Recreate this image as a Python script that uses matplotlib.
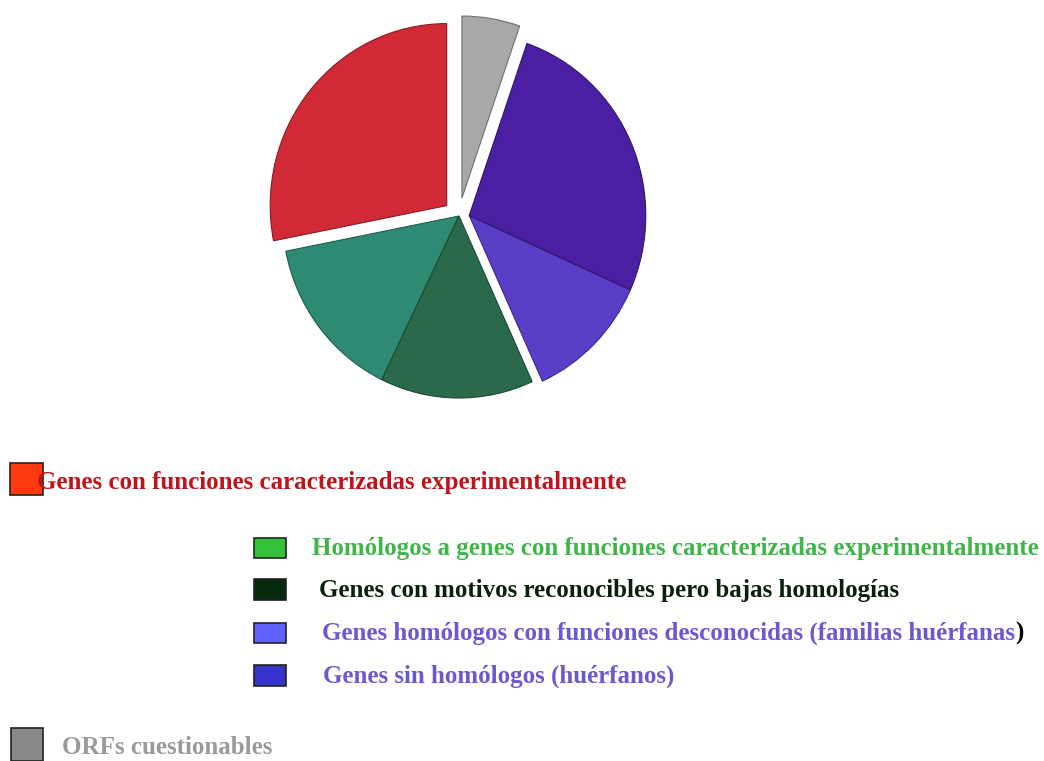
import matplotlib
matplotlib.use("Agg")
import matplotlib.pyplot as plt
from matplotlib.patches import Rectangle
import numpy as np

# ---- data ----
categories = [
    "Genes con funciones caracterizadas experimentalmente",
    "Homólogos a genes con funciones caracterizadas experimentalmente",
    "Genes con motivos reconocibles pero bajas homologías",
    "Genes homólogos con funciones desconocidas (familias huérfanas)",
    "Genes sin homólogos (huérfanos)",
    "ORFs cuestionables",
]
values = [28.1, 14.7, 14.0, 11.5, 26.4, 5.3]
slice_colors = ["#d12a36", "#2e8a72", "#2a6a4b", "#5a3ec6", "#4a1fa2", "#a8a8a8"]
slice_edges = ["#8a1a22", "#1d5d4c", "#1b4a33", "#3b2890", "#301470", "#707070"]
legend_box_colors = ["#ff3a10", "#33c23a", "#062a0c", "#6262ff", "#3434cc", "#888888"]
legend_text_colors = ["#c0141c", "#3fb54a", "#0a1f0c", "#6a5ad0", "#6a5ad0", "#9a9a9a"]
explode = [0.09, 0.0, 0.0, 0.0, 0.0, 0.10]
group_idx = [3, 4]        # slices displaced together as one block
group_offset = 0.058

W, H = 1044, 761
fig = plt.figure(figsize=(W / 100, H / 100), dpi=100)
fig.patch.set_facecolor("white")

# pie axes (slightly narrower horizontally, as in the original)
R_px = 182
xscale = 0.97
cx, cy = 459, 216
half = 1.25 * R_px
halfx = half * xscale
ax = fig.add_axes([(cx - halfx) / W, (H - cy - half) / H, 2 * halfx / W, 2 * half / H])
wedges, _ = ax.pie(values, colors=slice_colors, startangle=90, counterclock=True,
                   explode=explode, radius=1.0,
                   wedgeprops=dict(linewidth=0.8))
for w, ec in zip(wedges, slice_edges):
    w.set_edgecolor(ec)
# shift the two "orphan" slices together
th1 = wedges[group_idx[0]].theta1
th2 = wedges[group_idx[-1]].theta2
mid = np.deg2rad((th1 + th2) / 2)
for i in group_idx:
    wedges[i].set_center((group_offset * np.cos(mid), group_offset * np.sin(mid)))
ax.set_xlim(-1.25, 1.25)
ax.set_ylim(-1.25, 1.25)
ax.set_aspect("auto")
ax.axis("off")

# legend (manual layout)
boxes = [(10, 463, 33, 32), (254, 538, 32, 20), (254, 579, 32, 21),
         (254, 623, 32, 20), (254, 665, 32, 21), (11, 728, 32, 33)]
text_pos = [(37, 489), (312, 555), (319, 597), (322, 640), (323, 683), (62, 754)]

font = dict(family="Liberation Serif", fontsize=18, fontweight="bold")
for i, cat in enumerate(categories):
    x, y, w, h = boxes[i]
    fig.add_artist(Rectangle((x / W, 1 - (y + h) / H), w / W, h / H,
                             transform=fig.transFigure, facecolor=legend_box_colors[i],
                             edgecolor="#222222", linewidth=1.2, zorder=0))
    tx, ty = text_pos[i]
    if cat.endswith(")") and "familias" in cat:
        t = fig.text(tx / W, 1 - ty / H, cat[:-1], color=legend_text_colors[i],
                     ha="left", va="baseline", **font)
        fig.canvas.draw()
        bb = t.get_window_extent()
        fig.text(bb.x1 / W, 1 - ty / H, ")", color="black", ha="left",
                 va="baseline", **font)
    else:
        fig.text(tx / W, 1 - ty / H, cat, color=legend_text_colors[i],
                 ha="left", va="baseline", **font)

fig.savefig("out.png", dpi=100, facecolor="white")
